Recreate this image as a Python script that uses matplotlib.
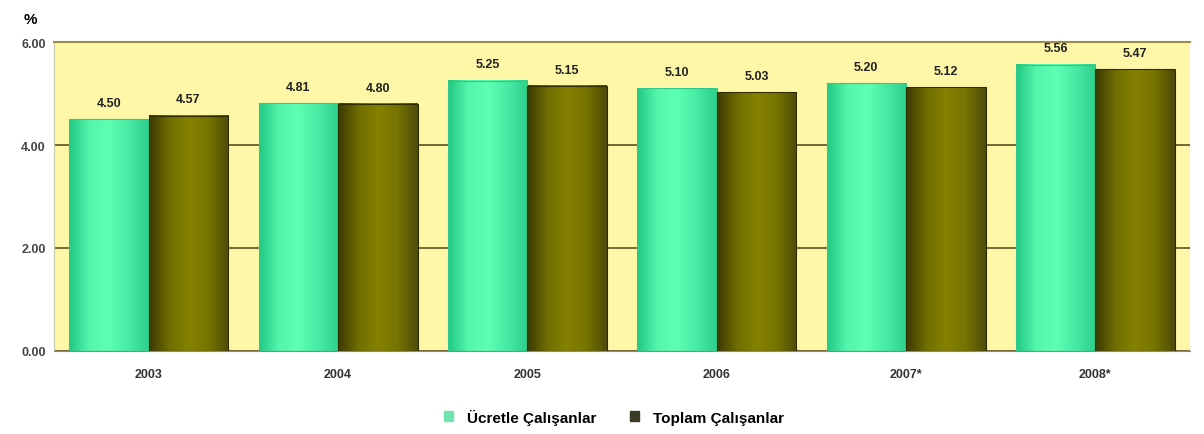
import numpy as np
import matplotlib.pyplot as plt
from matplotlib.colors import LinearSegmentedColormap

plt.rcParams['font.family'] = ['Liberation Sans', 'DejaVu Sans']

years = ["2003", "2004", "2005", "2006", "2007*", "2008*"]
ucretle = [4.50, 4.81, 5.25, 5.10, 5.20, 5.56]
toplam = [4.57, 4.80, 5.15, 5.03, 5.12, 5.47]
series_names = ["Ücretle Çalışanlar", "Toplam Çalışanlar"]

green_cm = LinearSegmentedColormap.from_list(
    "g", ["#22c983", "#55f5ad", "#5effb3", "#48eaa4", "#2fcf8c"])
olive_cm = LinearSegmentedColormap.from_list(
    "o", ["#3d3a05", "#6f6d00", "#858200", "#777400", "#4f4c0a"])

fig = plt.figure(figsize=(12.04, 4.35), dpi=100)
ax = fig.add_axes([0.0449, 0.191, 0.9435, 0.71])
ax.set_facecolor("#fff7a8")

x = np.arange(len(years))
w = 0.42
grad = np.linspace(0, 1, 64).reshape(1, -1)

for vals, off, cm, edge in [(ucretle, -w / 2, green_cm, "#2cc98a"),
                            (toplam, w / 2, olive_cm, "#2f2c00")]:
    bars = ax.bar(x + off, vals, w, color="none", edgecolor=edge, linewidth=0.8, zorder=3)
    for b, v in zip(bars, vals):
        x0 = b.get_x()
        ax.imshow(grad, cmap=cm, extent=[x0, x0 + w, 0, v], aspect="auto", zorder=2)
        ax.text(x0 + w / 2, v + 0.2, f"{v:.2f}", ha="center", va="bottom",
                fontsize=9, fontweight="bold", color="#222222")

ax.set_xlim(-0.5, len(years) - 0.5)
ax.set_ylim(0, 6)
ax.set_yticks([0, 2, 4, 6])
ax.set_yticklabels(["0.00", "2.00", "4.00", "6.00"], fontsize=9, fontweight="bold", color="#444444")
ax.set_xticks(x)
ax.set_xticklabels(years, fontsize=9, fontweight="bold", color="#333333")
ax.tick_params(axis="x", length=0, pad=12)
ax.tick_params(axis="y", length=0, pad=6)
ax.grid(axis="y", color="#6b5a2a", linewidth=1.3, zorder=1)
ax.spines["top"].set_color("#9c8c4a")
ax.spines["top"].set_linewidth(1.5)
ax.spines["right"].set_visible(False)
ax.spines["left"].set_color("#c8c8b0")
ax.spines["bottom"].set_color("#888888")

fig.text(0.02, 0.955, "%", fontsize=11, fontweight="bold", ha="left", va="center")

handles = [plt.Rectangle((0, 0), 1, 1, color="#6fe3b0"),
           plt.Rectangle((0, 0), 1, 1, color="#3a3a26")]
fig.legend(handles, series_names, loc="center", bbox_to_anchor=(0.51, 0.04), ncol=2,
           frameon=False, prop={"weight": "bold", "size": 11}, handlelength=0.6,
           handleheight=0.6, columnspacing=2.2, handletextpad=0.9)

fig.savefig("out.png", dpi=100)
